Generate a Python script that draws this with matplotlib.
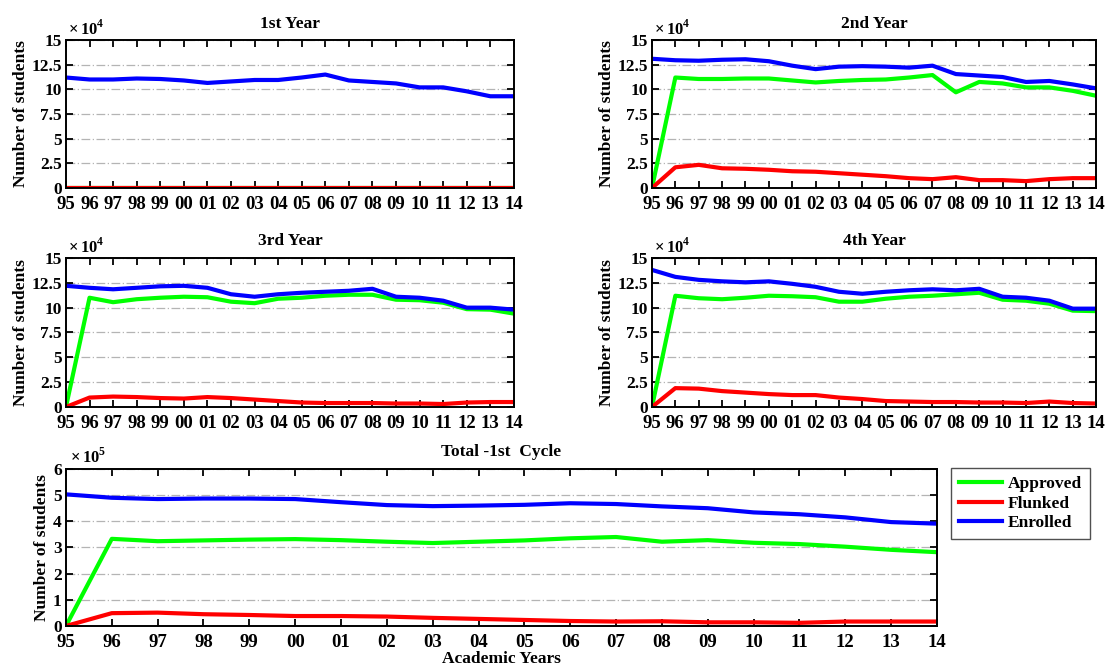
import numpy as np
import matplotlib
matplotlib.use("Agg")
import matplotlib.pyplot as plt

plt.rcParams["font.family"] = ["Liberation Serif", "DejaVu Serif"]
plt.rcParams["mathtext.fontset"] = "custom"
plt.rcParams["mathtext.rm"] = "Liberation Serif:bold"

years = ["95", "96", "97", "98", "99", "00", "01", "02", "03", "04",
         "05", "06", "07", "08", "09", "10", "11", "12", "13", "14"]

# yearly panels, units of 10^4 students
y1_enrolled = [11.2, 11.0, 11.0, 11.1, 11.05, 10.9, 10.65, 10.8, 10.95, 10.95,
               11.2, 11.5, 10.9, 10.75, 10.6, 10.2, 10.2, 9.8, 9.3, 9.3]
y1_approved = [0.0] * 20
y1_flunked = [0.0] * 20

y2_enrolled = [13.1, 12.95, 12.9, 13.0, 13.05, 12.85, 12.4, 12.05, 12.3, 12.35,
               12.3, 12.2, 12.4, 11.55, 11.4, 11.25, 10.75, 10.85, 10.5, 10.1]
y2_approved = [0.0, 11.2, 11.05, 11.05, 11.1, 11.1, 10.9, 10.7, 10.85, 10.95,
               11.0, 11.2, 11.45, 9.7, 10.75, 10.6, 10.2, 10.2, 9.85, 9.35]
y2_flunked = [0.0, 2.1, 2.35, 2.0, 1.95, 1.85, 1.7, 1.65, 1.5, 1.35,
              1.2, 1.0, 0.9, 1.1, 0.8, 0.8, 0.7, 0.9, 1.0, 1.0]

y3_enrolled = [12.2, 12.0, 11.85, 12.0, 12.15, 12.2, 12.0, 11.35, 11.1, 11.35,
               11.5, 11.6, 11.7, 11.9, 11.1, 11.0, 10.7, 10.0, 10.0, 9.8]
y3_approved = [0.0, 11.0, 10.55, 10.85, 11.0, 11.1, 11.05, 10.6, 10.45, 10.9,
               11.0, 11.2, 11.3, 11.3, 10.8, 10.75, 10.5, 9.85, 9.8, 9.4]
y3_flunked = [0.0, 0.95, 1.05, 1.0, 0.9, 0.85, 1.0, 0.9, 0.75, 0.6,
              0.45, 0.4, 0.4, 0.4, 0.35, 0.35, 0.3, 0.45, 0.5, 0.5]

y4_enrolled = [13.8, 13.1, 12.8, 12.65, 12.55, 12.65, 12.4, 12.1, 11.6, 11.4,
               11.6, 11.75, 11.85, 11.75, 11.9, 11.1, 11.0, 10.7, 9.9, 9.9]
y4_approved = [0.0, 11.2, 10.95, 10.85, 11.0, 11.2, 11.15, 11.05, 10.6, 10.6,
               10.9, 11.1, 11.2, 11.35, 11.5, 10.8, 10.7, 10.4, 9.7, 9.65]
y4_flunked = [0.0, 1.9, 1.85, 1.6, 1.45, 1.3, 1.2, 1.2, 0.95, 0.8,
              0.6, 0.55, 0.5, 0.5, 0.45, 0.45, 0.4, 0.55, 0.4, 0.35]

# total panel, units of 10^5 students
tot_enrolled = [5.03, 4.9, 4.85, 4.87, 4.87, 4.85, 4.73, 4.62, 4.58, 4.6,
                4.63, 4.69, 4.66, 4.57, 4.5, 4.34, 4.27, 4.15, 3.97, 3.91]
tot_approved = [0.0, 3.33, 3.24, 3.27, 3.3, 3.32, 3.28, 3.22, 3.17, 3.22,
                3.27, 3.35, 3.4, 3.22, 3.28, 3.18, 3.13, 3.03, 2.91, 2.82]
tot_flunked = [0.0, 0.49, 0.51, 0.45, 0.42, 0.38, 0.38, 0.36, 0.31, 0.27,
               0.23, 0.19, 0.17, 0.18, 0.14, 0.14, 0.12, 0.17, 0.17, 0.17]

GREEN, RED, BLUE = "#00ff00", "#ff0000", "#0000ff"
FS = 12.5
XFS = 13.5


def style_axis(ax, title, yticks, yticklabels, exponent, xlabel=None):
    x = np.arange(len(years))
    ax.set_xlim(0, len(years) - 1)
    ax.set_ylim(yticks[0], yticks[-1])
    ax.set_xticks(x)
    ax.set_xticklabels(years, fontsize=XFS, fontweight="bold")
    ax.set_yticks(yticks)
    ax.set_yticklabels(yticklabels, fontsize=FS, fontweight="bold")
    ax.tick_params(direction="in", length=5, width=1.3, top=True, right=True, pad=3)
    ax.tick_params(axis="x", pad=6)
    for s in ax.spines.values():
        s.set_linewidth(1.4)
    ax.grid(axis="y", color="#b4b4b4", linestyle=(0, (7, 2, 1, 2)), linewidth=0.9)
    ax.set_axisbelow(True)
    ax.set_title(title, fontsize=FS, fontweight="bold", pad=9)
    ax.set_ylabel("Number of students", fontsize=FS, fontweight="bold", labelpad=2)
    ax.text(0.005, 1.012, r"$\times\,10^{%d}$" % exponent, transform=ax.transAxes,
            ha="left", va="bottom", fontsize=12)
    if xlabel:
        ax.set_xlabel(xlabel, fontsize=FS, fontweight="bold", labelpad=0)


def draw(ax, approved, flunked, enrolled):
    x = np.arange(len(years))
    ax.plot(x, approved, color=GREEN, lw=3, label="Approved", solid_joinstyle="round")
    ax.plot(x, flunked, color=RED, lw=3, label="Flunked", solid_joinstyle="round")
    ax.plot(x, enrolled, color=BLUE, lw=3, label="Enrolled", solid_joinstyle="round")


fig = plt.figure(figsize=(11.16, 6.67), dpi=100)

yt = [0, 2.5, 5, 7.5, 10, 12.5, 15]
ytl = ["0", "2.5", "5", "7.5", "10", "12.5", "15"]

panels = [
    ([0.0591, 0.7181, 0.4014, 0.2219], "1st Year", y1_approved, y1_flunked, y1_enrolled),
    ([0.5842, 0.7181, 0.3980, 0.2219], "2nd Year", y2_approved, y2_flunked, y2_enrolled),
    ([0.0591, 0.3898, 0.4014, 0.2234], "3rd Year", y3_approved, y3_flunked, y3_enrolled),
    ([0.5842, 0.3898, 0.3980, 0.2234], "4th Year", y4_approved, y4_flunked, y4_enrolled),
]
for rect, title, a, f, e in panels:
    ax = fig.add_axes(rect)
    draw(ax, a, f, e)
    style_axis(ax, title, yt, ytl, 4)

ax = fig.add_axes([0.0591, 0.0615, 0.7805, 0.2354])
draw(ax, tot_approved, tot_flunked, tot_enrolled)
style_axis(ax, "Total -1st  Cycle", [0, 1, 2, 3, 4, 5, 6],
           ["0", "1", "2", "3", "4", "5", "6"], 5, xlabel="Academic Years")

leg = ax.legend(loc="upper left", bbox_to_anchor=(0.852, 0.298),
                bbox_transform=fig.transFigure, borderaxespad=0, fancybox=False,
                framealpha=1, edgecolor="#505050", prop={"weight": "bold", "size": 12.5},
                handlelength=2.5, borderpad=0.45, labelspacing=0.2, handletextpad=0.35)
leg.get_frame().set_linewidth(1.0)

fig.savefig("out.png", dpi=100)
